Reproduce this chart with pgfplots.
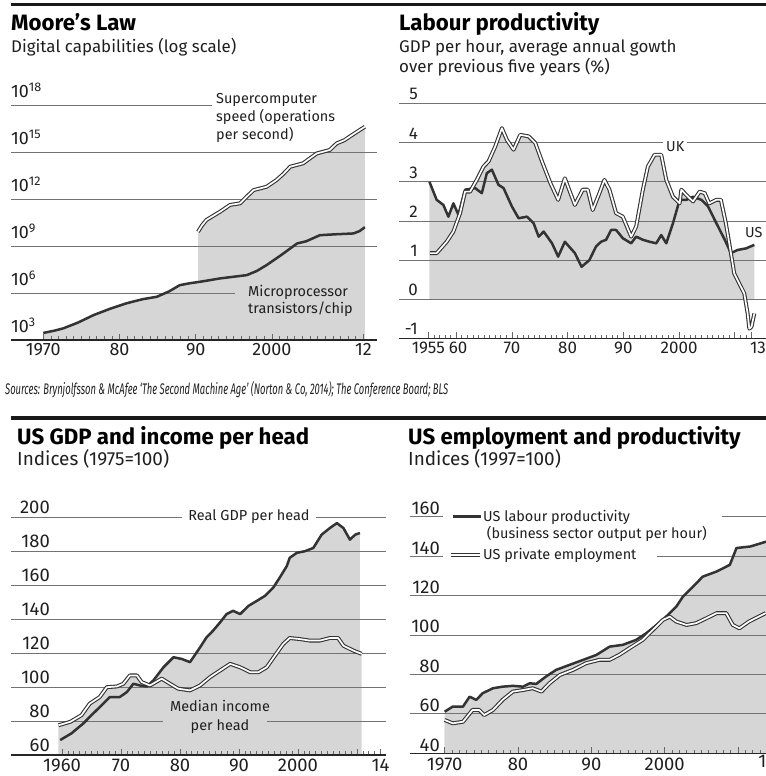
\documentclass[border=0pt]{standalone}
\usepackage{fontspec}
\setmainfont{Fira Sans}
\usepackage{graphicx}
\usepackage{pgfplots}
\pgfplotsset{compat=1.18}
\usepackage{pgfplotstable}

\definecolor{areagrey}{gray}{0.84}
\definecolor{linegrey}{gray}{0.2}
\definecolor{gridgrey}{gray}{0.45}
\definecolor{txt}{gray}{0.12}

\newcommand\titlef{\fontsize{22.3}{25}\selectfont\bfseries}
\newcommand\subf{\fontsize{17}{19}\selectfont}
\newcommand\subfb{\fontsize{19}{21}\selectfont}
\newcommand\annf{\fontsize{14.5}{17}\selectfont}
\newcommand\tickf{\fontsize{18}{20}\selectfont}
\newcommand\tickfs{\fontsize{17}{19}\selectfont}
\newcommand\tickfb{\fontsize{18.5}{21}\selectfont}

\tikzset{
  darkline/.style={draw=linegrey, line width=2.5bp, line join=round},
  dblline/.style={draw=linegrey, line width=1.1bp, double=white, double distance=1.7bp, line join=round},
  areafill/.style={fill=areagrey, draw=none},
  lbl/.style={anchor=base west, inner sep=0pt, text=txt},
}

\pgfplotsset{
  econ/.style={
    scale only axis, set layers, anchor=south west,
    separate axis lines,
    axis x line*=bottom, axis y line*=left,
    x axis line style={draw=black!85, line width=1.4bp, -},
    y axis line style={draw=none},
    ytick style={draw=none},
    xtick align=inside,
    every tick/.style={black!60, line width=0.7bp},
    major tick length=6bp, minor tick length=3.5bp,
    ymajorgrids,
    major grid style={gridgrey, line width=0.9bp},
    /pgf/number format/assume math mode=true,
    tick label style={font=\tickf, text=txt},
    xticklabel style={anchor=north, inner sep=0pt, yshift=-3bp},
    yticklabel style={inner sep=0pt},
  },
  plotfill/.style={areafill, on layer=axis background},
}

% Moore's Law (log10 of value)
\pgfplotstableread{
x y
1970.0 3.45
1971.5 3.60
1972.6 3.74
1974.5 4.10
1976.6 4.59
1978.8 5.00
1980.9 5.34
1983.0 5.60
1984.9 5.76
1986.5 6.10
1987.9 6.50
1989.2 6.62
1990.5 6.71
1993.2 6.93
1996.7 7.14
1998.0 7.40
1999.3 7.78
2001.3 8.45
2003.3 9.16
2004.5 9.30
2006.3 9.69
2008.5 9.75
2010.7 9.80
2011.5 9.95
2012.2 10.20
}\microtab
\pgfplotstableread{
x y
1990.3 9.91
1990.8 10.30
1991.4 10.66
1993.2 11.19
1994.5 11.62
1995.8 11.72
1996.7 12.15
1997.6 12.57
1999.3 12.78
2000.6 13.21
2001.5 13.60
2002.4 14.06
2004.1 14.28
2005.0 14.60
2005.9 14.91
2007.6 15.13
2008.5 15.55
2009.5 15.75
2010.2 15.98
2011.2 16.30
2012.2 16.61
}\supertab

% Labour productivity
\pgfplotstableread{
x y
1955.2 3.00
1956.5 2.54
1957.7 2.41
1958.6 2.11
1959.5 2.45
1960.4 2.16
1961.6 2.80
1963.4 2.84
1964.6 2.71
1965.5 3.22
1966.4 3.31
1967.6 2.92
1968.5 2.84
1970.0 2.37
1971.2 2.07
1972.7 2.11
1973.9 1.94
1974.8 1.60
1975.7 1.73
1977.2 1.43
1978.3 1.09
1979.5 1.47
1981.3 1.18
1982.5 0.83
1983.9 1.00
1985.1 1.35
1986.0 1.47
1986.9 1.52
1987.8 1.77
1988.7 1.77
1989.9 1.56
1991.4 1.43
1992.3 1.60
1993.5 1.52
1994.7 1.47
1995.9 1.43
1996.8 1.64
1997.7 1.43
1998.9 1.94
2000.1 2.54
2001.3 2.54
2002.5 2.62
2004.0 2.54
2005.2 2.37
2006.7 1.94
2008.2 1.52
2009.3 1.18
2010.5 1.26
2012.0 1.30
2013.5 1.39
}\ustab
\pgfplotstableread{
x y
1955.3 1.18
1956.5 1.18
1958.3 1.47
1959.5 1.73
1960.7 2.20
1961.6 2.75
1962.5 2.75
1963.7 3.05
1964.9 3.39
1965.8 3.52
1967.0 3.90
1968.2 4.37
1969.1 4.07
1970.3 3.82
1971.5 4.20
1973.0 4.16
1974.2 3.99
1975.4 3.52
1976.9 2.97
1978.3 2.54
1979.5 3.09
1981.3 2.41
1982.7 2.80
1983.6 2.80
1984.5 2.28
1985.7 2.71
1986.6 3.05
1987.5 2.80
1988.7 2.20
1989.9 2.11
1991.4 1.60
1992.3 1.86
1993.5 2.80
1994.4 3.39
1995.6 3.69
1996.8 3.69
1997.7 3.05
1998.9 2.62
2000.1 2.45
2000.4 2.80
2001.6 2.62
2002.5 2.50
2003.7 2.75
2004.6 2.71
2005.4 2.45
2006.7 2.54
2007.5 2.54
2008.4 1.94
2009.3 1.18
2009.9 0.66
2011.1 0.32
2011.7 0.15
2012.3 -0.36
2012.6 -0.75
2013.0 -0.70
2013.5 -0.36
}\uktab

% US GDP and income per head
\pgfplotstableread{
x y
1959.7 68.8
1961.6 72.7
1963.6 78.5
1965.0 83.4
1966.4 88.2
1968.1 94.1
1969.8 94.1
1971.0 97.0
1972.1 101.9
1973.2 100.9
1974.4 100.3
1975.5 103.9
1977.2 111.6
1978.9 117.5
1980.3 116.5
1981.7 114.6
1983.4 123.3
1984.5 129.2
1985.6 133.1
1986.8 138.0
1987.9 142.9
1989.0 144.8
1990.2 142.9
1991.6 147.7
1993.0 150.6
1994.4 153.6
1995.8 158.4
1996.9 164.3
1998.1 171.1
1998.6 176.0
1999.8 178.9
2001.2 179.9
2002.6 181.8
2004.0 189.6
2005.4 193.5
2006.6 196.4
2007.7 193.5
2008.8 186.7
2009.7 189.6
2010.5 190.6
}\gdptab
\pgfplotstableread{
x y
1959.4 77.5
1961.4 79.5
1963.3 83.4
1964.7 90.2
1966.4 94.1
1967.6 99.9
1969.3 100.3
1970.4 101.9
1971.5 106.8
1972.7 106.8
1973.5 102.9
1974.9 100.9
1976.9 104.9
1978.3 101.9
1979.7 99.0
1981.7 98.0
1983.4 100.9
1985.1 105.8
1986.8 109.7
1988.5 113.6
1990.2 111.6
1991.9 108.7
1993.3 108.7
1994.7 111.6
1996.1 118.5
1997.5 125.3
1998.6 128.8
2000.3 128.2
2002.0 127.3
2003.7 127.3
2005.4 128.8
2006.8 128.8
2007.7 124.3
2009.4 121.4
2010.8 119.5
}\mediantab

% US employment and productivity
\pgfplotstableread{
x y
1970.0 61.1
1971.1 63.7
1972.5 63.7
1973.4 68.7
1974.3 67.1
1975.2 70.5
1976.6 73.0
1977.9 73.8
1979.3 74.2
1980.7 73.8
1981.6 75.5
1982.5 75.2
1983.8 78.9
1985.2 82.3
1987.0 84.8
1988.9 87.4
1990.7 89.9
1992.5 94.1
1994.3 95.0
1996.1 97.5
1997.5 100.9
1998.9 105.1
2000.2 109.3
2001.6 114.4
2002.5 119.5
2003.9 124.6
2005.2 129.6
2007.1 132.2
2008.9 135.6
2009.8 144.1
2011.7 144.9
2013.9 147.4
}\prodtab
\pgfplotstableread{
x y
1970.0 56.9
1971.1 55.2
1972.5 56.0
1973.8 62.0
1974.7 62.0
1975.4 59.4
1976.6 62.0
1977.9 67.1
1979.3 71.3
1980.7 72.1
1982.0 73.0
1983.2 71.3
1984.3 75.5
1985.7 79.7
1987.5 82.3
1989.3 85.7
1991.1 87.4
1992.5 87.4
1993.8 89.9
1995.2 93.3
1997.0 97.5
1998.4 102.6
1999.8 107.7
2000.7 109.3
2001.6 106.8
2003.0 105.1
2004.3 106.0
2005.7 108.5
2007.1 111.1
2008.4 111.1
2009.3 105.1
2010.2 103.4
2011.5 106.8
2013.8 111.1
}\emptab

\begin{document}
\begin{tikzpicture}[x=1bp,y=1bp]

% ---------- Moore's Law ----------
\begin{axis}[econ, at={(11bp,436bp)}, width=366bp, height=235bp,
  xmin=1965.76, xmax=2013.79, ymin=3, ymax=18,
  xtick={1970,1980,1990,2000,2012}, xticklabels={1970,80,90,2000,12},
  minor xtick={1970,...,2012},
  ytick={3,6,9,12,15,18},
  yticklabels={10\textsuperscript{3},10\textsuperscript{6},10\textsuperscript{9},10\textsuperscript{12},10\textsuperscript{15},10\textsuperscript{18}},
  yticklabel style={anchor=base west, yshift=7bp}]
\addplot[plotfill] table {\microtab} |- (1970,3) -- cycle;
\addplot[plotfill] table {\supertab} |- (1990.3,3) -- cycle;
\addplot[darkline] table {\microtab};
\addplot[dblline] table {\supertab};
\end{axis}

% ---------- Labour productivity ----------
\begin{axis}[econ, at={(399bp,437.5bp)}, width=367bp, height=235bp,
  xmin=1949.74, xmax=2015.6, ymin=-1, ymax=5,
  tick label style={font=\tickfs},
  xtick={1955,1960,1970,1980,1990,2000,2010,2013},
  xticklabels={1955\hspace{24bp},\hspace{4bp}60,70,80,90,2000,,\hspace{13bp}13},
  minor xtick={1955,...,2013},
  ytick={-1,0,...,5}, yticklabels={-1,0,1,2,3,4,5},
  yticklabel style={anchor=base east, xshift=19bp, yshift=3.5bp}]
\addplot[plotfill] table {\ustab} |- (1955.2,0) -- cycle;
\addplot[plotfill, restrict x to domain=1950:2009.5] table {\uktab} |- (1955.3,0) -- cycle;
\addplot[darkline] table {\ustab};
\addplot[dblline] table {\uktab};
\end{axis}

% ---------- US GDP and income per head ----------
\begin{axis}[econ, at={(11bp,21bp)}, width=375bp, height=238bp,
  xmin=1951.36, xmax=2014.92, ymin=60, ymax=200,
  tick label style={font=\tickfb},
  xticklabel style={yshift=-1bp},
  xtick={1960,1970,1980,1990,2000,2010,2014},
  xticklabels={1960,70,80,90,2000,,14},
  minor xtick={1960,...,2014},
  ytick={60,80,...,200},
  yticklabel style={anchor=base east, xshift=39bp, yshift=3.5bp}]
\addplot[plotfill] table {\gdptab} |- (1959.7,60) -- cycle;
\addplot[plotfill] table {\mediantab} |- (1959.4,60) -- cycle;
\addplot[darkline] table {\gdptab};
\addplot[dblline] table {\mediantab};
\end{axis}

% ---------- US employment and productivity ----------
\begin{axis}[econ, at={(409.7bp,22.7bp)}, width=356.3bp, height=236.6bp,
  xmin=1965.23, xmax=2013.83, ymin=40, ymax=160,
  tick label style={font=\tickfb},
  xticklabel style={yshift=-1bp},
  xtick={1970,1980,1990,2000,2010},
  xticklabels={1970,80,90,2000,},
  minor xtick={1970,...,2013},
  ytick={40,60,...,160},
  yticklabel style={anchor=base east, xshift=30.3bp, yshift=2bp}]
\addplot[plotfill] table {\prodtab} |- (1970,40) -- cycle;
\addplot[plotfill] table {\emptab} |- (1970,40) -- cycle;
\addplot[darkline] table {\prodtab};
\addplot[dblline] table {\emptab};
\end{axis}

% ---------- rules, titles, notes ----------
\fill[black!90] (11,769.5) rectangle (766,773);
\fill[black!90] (11,355.5) rectangle (766,359.5);

\node[lbl, font=\titlef, text=black] at (11,745) {Moore's Law};
\node[lbl, font=\titlef, text=black] at (399,745) {Labour productivity};
\node[lbl, font=\subf] at (11,723) {Digital capabilities (log scale)};
\node[lbl, font=\subf] at (399,723) {GDP per hour, average annual gowth};
\node[lbl, font=\subf] at (399,703) {over previous five years (\%)};

\node[lbl] at (5,381) {\resizebox{443bp}{13bp}{\itshape Sources: Brynjolfsson \& McAfee `The Second Machine Age' (Norton \& Co, 2014); The Conference Board; BLS}};

\node[lbl, font=\titlef, text=black] at (17,331) {US GDP and income per head};
\node[lbl, font=\titlef, text=black] at (408,331) {US employment and productivity};
\node[lbl, font=\subfb] at (17,310) {Indices (1975=100)};
\node[lbl, font=\subfb] at (408,310) {Indices (1997=100)};

% Moore's Law labels
\fill[white] (212,666) rectangle (377,677);
\node[lbl, font=\annf] at (216,672) {Supercomputer};
\node[lbl, font=\annf] at (216,654.3) {speed (operations};
\node[lbl, font=\annf] at (216,636.5) {per second)};
\fill[areagrey] (235,479) rectangle (365.3,487);
\fill[white] (365.3,479) rectangle (377,487);
\node[lbl, font=\annf] at (248,479) {Microprocessor};
\node[lbl, font=\annf] at (248,462) {transistors/chip};

% Labour productivity labels
\node[anchor=base west, inner xsep=3bp, inner ysep=1.5bp, fill=white, font=\annf, text=txt] at (663,624.3) {UK};
\node[lbl, font=\annf] at (745,538.5) {US};

% GDP labels
\node[anchor=base, inner xsep=6bp, inner ysep=1.5bp, fill=white, font=\annf, text=txt] at (249,255) {Real GDP per head};
\fill[areagrey] (163,50) rectangle (267,59);
\node[anchor=base, inner sep=0pt, font=\annf, text=txt] at (220,64) {Median income};
\node[anchor=base, inner sep=0pt, font=\annf, text=txt] at (220,45.5) {per head};

% employment legend
\fill[white] (443,255) rectangle (722,264);
\fill[white] (443,217) rectangle (657,226);
\draw[darkline] (453,259.3) -- (481,259.3);
\draw[dblline] (451,221) -- (480,221);
\node[lbl, font=\annf] at (483,254.3) {US labour productivity};
\node[lbl, font=\annf] at (486.7,237) {(business sector output per hour)};
\node[lbl, font=\annf] at (483,216) {US private employment};
\node[anchor=north, inner sep=0pt, font=\tickfb, text=txt] at (767.2,21.7) {14};

\pgfresetboundingbox
\useasboundingbox (0,0) rectangle (766,776);
\end{tikzpicture}
\end{document}
